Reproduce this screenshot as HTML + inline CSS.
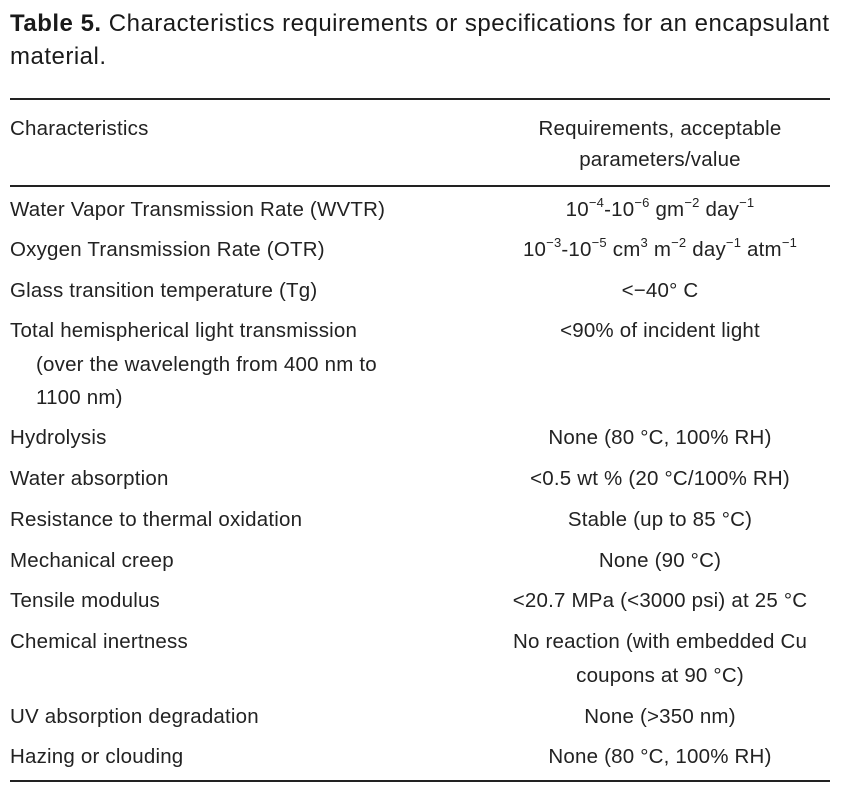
<!DOCTYPE html>
<html><head><style>
body{margin:0;width:841px;height:789px;background:#fff;position:relative;font-family:"Liberation Sans",sans-serif;color:#222;overflow:hidden}
.t{position:absolute;white-space:nowrap;font-size:20.5px;line-height:24px;letter-spacing:0.2px}
.r{position:absolute;white-space:nowrap;font-size:20.5px;line-height:24px;letter-spacing:0.2px;left:480px;width:360px;text-align:center}
.h{position:absolute;left:10px;width:820px;height:1.5px;background:#222}
sup{font-size:13px;line-height:0;position:relative;top:-1px}
.ti{position:absolute;left:10px;font-size:24px;line-height:33px;white-space:nowrap;color:#1a1a1a;letter-spacing:0.5px}
</style></head><body>
<div class="ti" style="top:7px"><b>Table 5.</b> Characteristics requirements or specifications for an encapsulant</div>
<div class="ti" style="top:40px">material.</div>
<div class="h" style="top:98px"></div>
<div class="h" style="top:185px"></div>
<div class="h" style="top:780px"></div>
<div class="t" style="left:10px;top:117px">Characteristics</div>
<div class="r" style="top:117px">Requirements, acceptable</div>
<div class="r" style="top:148px">parameters/value</div>

<div class="t" style="left:10px;top:198px">Water Vapor Transmission Rate (WVTR)</div>
<div class="r" style="top:198px">10<sup>−4</sup>-10<sup>−6</sup> gm<sup>−2</sup> day<sup>−1</sup></div>
<div class="t" style="left:10px;top:238px">Oxygen Transmission Rate (OTR)</div>
<div class="r" style="top:238px">10<sup>−3</sup>-10<sup>−5</sup> cm<sup>3</sup> m<sup>−2</sup> day<sup>−1</sup> atm<sup>−1</sup></div>
<div class="t" style="left:10px;top:279px">Glass transition temperature (Tg)</div>
<div class="r" style="top:279px">&lt;−40° C</div>
<div class="t" style="left:10px;top:319px">Total hemispherical light transmission</div>
<div class="r" style="top:319px">&lt;90% of incident light</div>
<div class="t" style="left:36px;top:353px">(over the wavelength from 400 nm to</div>
<div class="t" style="left:36px;top:386px">1100 nm)</div>
<div class="t" style="left:10px;top:426px">Hydrolysis</div>
<div class="r" style="top:426px">None (80 °C, 100% RH)</div>
<div class="t" style="left:10px;top:467px">Water absorption</div>
<div class="r" style="top:467px">&lt;0.5 wt % (20 °C/100% RH)</div>
<div class="t" style="left:10px;top:508px">Resistance to thermal oxidation</div>
<div class="r" style="top:508px">Stable (up to 85 °C)</div>
<div class="t" style="left:10px;top:549px">Mechanical creep</div>
<div class="r" style="top:549px">None (90 °C)</div>
<div class="t" style="left:10px;top:589px">Tensile modulus</div>
<div class="r" style="top:589px">&lt;20.7 MPa (&lt;3000 psi) at 25 °C</div>
<div class="t" style="left:10px;top:630px">Chemical inertness</div>
<div class="r" style="top:630px">No reaction (with embedded Cu</div>
<div class="r" style="top:664px">coupons at 90 °C)</div>
<div class="t" style="left:10px;top:705px">UV absorption degradation</div>
<div class="r" style="top:705px">None (&gt;350 nm)</div>
<div class="t" style="left:10px;top:745px">Hazing or clouding</div>
<div class="r" style="top:745px">None (80 °C, 100% RH)</div>
</body></html>
